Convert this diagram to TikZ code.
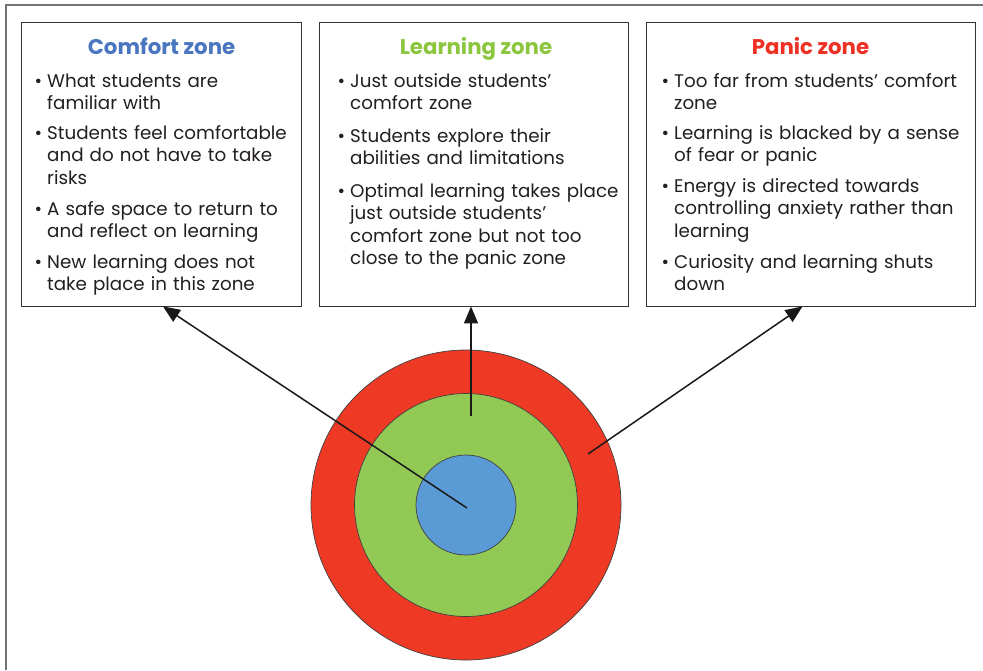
\documentclass[tikz,border=0pt]{standalone}
\usepackage{fontspec}
\setmainfont{Poppins}
\usetikzlibrary{arrows.meta,calc}
\definecolor{txt}{HTML}{231F20}
\definecolor{cblue}{HTML}{4A76C0}
\definecolor{cgreen}{HTML}{8CC63F}
\definecolor{cred}{HTML}{EE3124}
\definecolor{fred}{HTML}{EE3A24}
\definecolor{fgreen}{HTML}{92C955}
\definecolor{fblue}{HTML}{5B9BD5}
\begin{document}
\begin{tikzpicture}[x=1pt,y=-1pt,
  zonebox/.style={draw=black!80,line width=0.9pt,fill=white,minimum width=#1,minimum height=284pt,inner sep=0pt},
  ztitle/.style={font=\fontsize{21.3}{24}\selectfont\bfseries,anchor=base,inner sep=0pt},
  item/.style={text=txt,font=\fontsize{18.3}{22.5}\selectfont,anchor=base west,inner sep=0pt,text width=#1},
  ring/.style={circle,draw=black!75,line width=0.7pt,inner sep=0pt,minimum size=#1},
  conn/.style={line width=1.5pt,black!90,-{Triangle[length=17pt,width=14pt]}},
  frame/.style={draw=black!55,line width=1.2pt}
]
\useasboundingbox (0,0) rectangle (983,670);
\draw[frame] (6,670) -- (6,5) -- (983,5);

% boxes
\node[zonebox=280pt] (b1) at (161,164) {};
\node[zonebox=309pt] (b2) at (473.5,164) {};
\node[zonebox=329pt] (b3) at (810.5,164) {};

% titles
\node[ztitle,text=cblue] (t1) at (161.5,54) {Comfort zone};
\node[ztitle,text=cgreen] (t2) at (476,54) {Learning zone};
\node[ztitle,text=cred] (t3) at (810.5,54) {Panic zone};

\newcommand{\bul}{\llap{•\hspace{5pt}}}
% comfort items
\node[item=260pt] (c1) at (47,87) {\bul What students are\\familiar with};
\node[item=260pt] (c2) at (47,139) {\bul Students feel comfortable\\and do not have to take\\risks};
\node[item=260pt] (c3) at (47,215) {\bul A safe space to return to\\and reflect on learning};
\node[item=260pt] (c4) at (47,268) {\bul New learning does not\\take place in this zone};
% learning items
\node[item=290pt] (l1) at (350,87) {\bul Just outside students’\\comfort zone};
\node[item=290pt] (l2) at (350,142) {\bul Students explore their\\abilities and limitations};
\node[item=290pt] (l3) at (350,197) {\bul Optimal learning takes place\\just outside students’\\comfort zone but not too\\close to the panic zone};
% panic items
\node[item=310pt] (p1) at (674,87) {\bul Too far from students’ comfort\\zone};
\node[item=310pt] (p2) at (674,139) {\bul Learning is blacked by a sense\\of fear or panic};
\node[item=310pt] (p3) at (674,192) {\bul Energy is directed towards\\controlling anxiety rather than\\learning};
\node[item=310pt] (p4) at (674,268) {\bul Curiosity and learning shuts\\down};

% target
\node[ring=310pt,fill=fred] (outer) at (466,505) {};
\node[ring=223pt,fill=fgreen] (mid) at (466,505) {};
\node[ring=100pt,fill=fblue] (inner) at (466,505) {};

\coordinate (a1) at (467,508);
\coordinate (a2) at (471,416);
\coordinate (a3) at (588,454);
\draw[conn] (a1) -- ($(b1.south)+(2,0)$);
\draw[conn] (a2) -- (a2 |- b2.south);
\draw[conn] (a3) -- ($(b3.south)+(-8,0)$);
\end{tikzpicture}
\end{document}
